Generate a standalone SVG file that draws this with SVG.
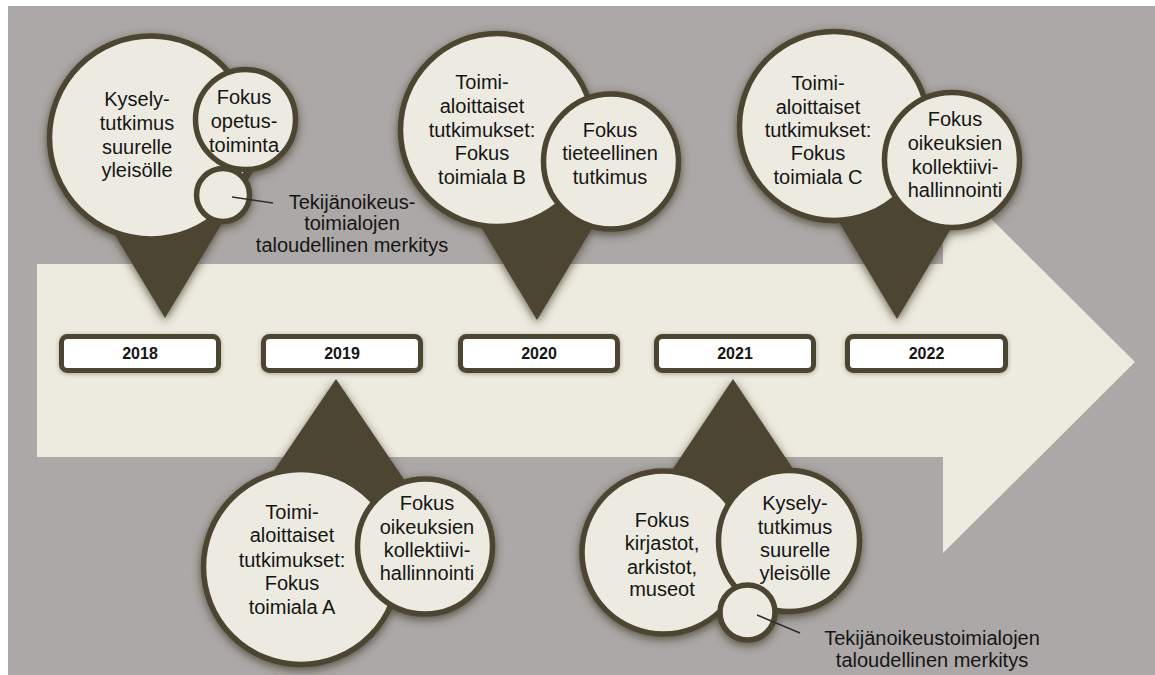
<svg xmlns="http://www.w3.org/2000/svg" width="1155" height="675" viewBox="0 0 1155 675">
<defs>
<filter id="sh" x="-30%" y="-30%" width="160%" height="160%">
<feGaussianBlur in="SourceAlpha" stdDeviation="5"/>
<feOffset dx="0" dy="3" result="b"/>
<feFlood flood-color="#3b3624" flood-opacity="0.75"/>
<feComposite in2="b" operator="in"/>
<feMerge><feMergeNode/><feMergeNode in="SourceGraphic"/></feMerge>
</filter>
<filter id="sh2" x="-10%" y="-30%" width="120%" height="160%">
<feGaussianBlur in="SourceAlpha" stdDeviation="2"/>
<feOffset dx="0" dy="1" result="b"/>
<feFlood flood-color="#3b3624" flood-opacity="0.4"/>
<feComposite in2="b" operator="in"/>
<feMerge><feMergeNode/><feMergeNode in="SourceGraphic"/></feMerge>
</filter>
</defs>
<style>
.tri{fill:#4b4531}
.c{fill:#edebe1;stroke:#4b4531;stroke-width:5.5}
.box{fill:#ffffff;stroke:#4b4531;stroke-width:5}
.t{font-family:"Liberation Sans",Arial,sans-serif;font-size:20px;fill:#151515;text-anchor:middle}
.y{font-family:"Liberation Sans",Arial,sans-serif;font-size:16px;font-weight:bold;fill:#151515;text-anchor:middle}
.ln{stroke:#2e2e2e;stroke-width:1.5;fill:none}
</style>
<rect x="0" y="0" width="1155" height="675" fill="#ffffff"/>
<rect x="8" y="6" width="1147" height="669" fill="#aca8a7"/>
<path d="M37,264 H943 V171 L1135,362 L943,553 V457 H37 Z" fill="#edebe0"/>

<g id="pin2018" filter="url(#sh)">
<polygon class="tri" points="165,318 64,150 266,150"/>
<circle class="c" cx="151" cy="137.5" r="101.5"/>
<circle class="c" cx="245.5" cy="119.5" r="50"/>
<circle class="c" cx="223" cy="195" r="26.5"/>
</g>
<g id="pin2018-text">
<text class="t" x="137" y="106">Kysely-</text>
<text class="t" x="137" y="130">tutkimus</text>
<text class="t" x="137" y="154">suurelle</text>
<text class="t" x="137" y="177">yleisölle</text>
<text class="t" x="244" y="104">Fokus</text>
<text class="t" x="244" y="128">opetus-</text>
<text class="t" x="244" y="152">toiminta</text>
</g>
<g id="label2018">
<text class="t" x="352" y="209">Tekijänoikeus-</text>
<text class="t" x="352" y="230">toimialojen</text>
<text class="t" x="352" y="252">taloudellinen merkitys</text>
</g>

<g id="pin2020" filter="url(#sh)">
<polygon class="tri" points="537,320 447,170 627,170"/>
<circle class="c" cx="497" cy="130" r="96.5"/>
<circle class="c" cx="611" cy="161.5" r="67.5"/>
</g>
<g id="pin2020-text">
<text class="t" x="482" y="89">Toimi-</text>
<text class="t" x="482" y="113">aloittaiset</text>
<text class="t" x="482" y="137">tutkimukset:</text>
<text class="t" x="482" y="160">Fokus</text>
<text class="t" x="482" y="184">toimiala B</text>
<text class="t" x="610" y="137">Fokus</text>
<text class="t" x="610" y="160">tieteellinen</text>
<text class="t" x="610" y="184">tutkimus</text>
</g>

<g id="pin2022" filter="url(#sh)">
<polygon class="tri" points="897,319 808,170 986,170"/>
<circle class="c" cx="834" cy="126" r="94.5"/>
<circle class="c" cx="952" cy="160" r="67.5"/>
</g>
<g id="pin2022-text">
<text class="t" x="818" y="90">Toimi-</text>
<text class="t" x="818" y="114">aloittaiset</text>
<text class="t" x="818" y="137">tutkimukset:</text>
<text class="t" x="818" y="160">Fokus</text>
<text class="t" x="818" y="184">toimiala C</text>
<text class="t" x="955" y="126">Fokus</text>
<text class="t" x="955" y="150">oikeuksien</text>
<text class="t" x="955" y="174">kollektiivi-</text>
<text class="t" x="955" y="197">hallinnointi</text>
</g>

<g id="pin2019" filter="url(#sh)">
<polygon class="tri" points="336,379 227,540 445,540"/>
<circle class="c" cx="301" cy="567" r="97.5"/>
<circle class="c" cx="425" cy="546.5" r="67.5"/>
</g>
<g id="pin2019-text">
<text class="t" x="292" y="519">Toimi-</text>
<text class="t" x="292" y="542">aloittaiset</text>
<text class="t" x="292" y="567">tutkimukset:</text>
<text class="t" x="292" y="590">Fokus</text>
<text class="t" x="292" y="614">toimiala A</text>
<text class="t" x="427" y="510">Fokus</text>
<text class="t" x="427" y="534">oikeuksien</text>
<text class="t" x="427" y="557">kollektiivi-</text>
<text class="t" x="427" y="580">hallinnointi</text>
</g>

<g id="pin2021" filter="url(#sh)">
<polygon class="tri" points="733,379 632,530 834,530"/>
<circle class="c" cx="663.5" cy="552.5" r="81.5"/>
<circle class="c" cx="789" cy="541" r="70.5"/>
<circle class="c" cx="747.5" cy="612.5" r="27.5"/>
</g>
<g id="pin2021-text">
<text class="t" x="662" y="527">Fokus</text>
<text class="t" x="662" y="550">kirjastot,</text>
<text class="t" x="662" y="574">arkistot,</text>
<text class="t" x="662" y="596">museot</text>
<text class="t" x="795" y="510">Kysely-</text>
<text class="t" x="795" y="534">tutkimus</text>
<text class="t" x="795" y="557">suurelle</text>
<text class="t" x="795" y="580">yleisölle</text>
</g>
<g id="label2021">
<text class="t" x="932" y="645">Tekijänoikeustoimialojen</text>
<text class="t" x="932" y="667">taloudellinen merkitys</text>
</g>

<g id="connectors">
<line class="ln" x1="232" y1="197" x2="273" y2="203"/>
<line class="ln" x1="757" y1="615" x2="800" y2="633"/>
</g>

<g id="y2018" filter="url(#sh2)"><rect class="box" x="61.5" y="336.5" width="157" height="34" rx="6"/></g>
<text class="y" x="140" y="359">2018</text>
<g id="y2019" filter="url(#sh2)"><rect class="box" x="263.5" y="336.5" width="157" height="34" rx="6"/></g>
<text class="y" x="342" y="359">2019</text>
<g id="y2020" filter="url(#sh2)"><rect class="box" x="460.5" y="336.5" width="157" height="34" rx="6"/></g>
<text class="y" x="539" y="359">2020</text>
<g id="y2021" filter="url(#sh2)"><rect class="box" x="656.5" y="336.5" width="157" height="34" rx="6"/></g>
<text class="y" x="735" y="359">2021</text>
<g id="y2022" filter="url(#sh2)"><rect class="box" x="847.5" y="336.5" width="158" height="34" rx="6"/></g>
<text class="y" x="926.5" y="359">2022</text>
</svg>
